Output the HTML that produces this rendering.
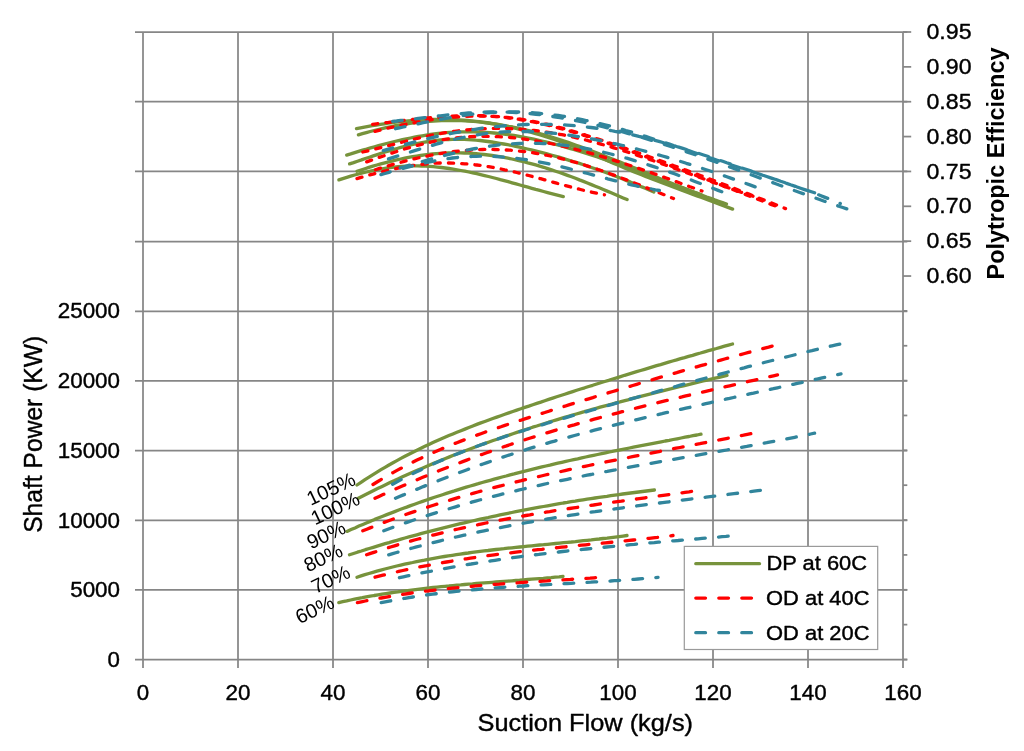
<!DOCTYPE html>
<html lang="en"><head><meta charset="utf-8"><title>Compressor performance map</title>
<style>html,body{margin:0;padding:0;background:#fff;overflow:hidden}svg{display:block;will-change:transform}text{font-family:"Liberation Sans", Arial, Helvetica, sans-serif;fill:#000}.c text,text.c{stroke:#000;stroke-width:0.4px;stroke-linejoin:round}</style></head><body>
<svg width="1024" height="751" viewBox="0 0 1024 751">
<g stroke="#868686" stroke-width="1.75" fill="none">
<line x1="135" y1="32.00" x2="907.3" y2="32.00"/>
<line x1="135" y1="101.70" x2="907.3" y2="101.70"/>
<line x1="135" y1="171.40" x2="907.3" y2="171.40"/>
<line x1="135" y1="241.65" x2="907.3" y2="241.65"/>
<line x1="135" y1="311.35" x2="907.3" y2="311.35"/>
<line x1="135" y1="380.80" x2="907.3" y2="380.80"/>
<line x1="135" y1="450.70" x2="907.3" y2="450.70"/>
<line x1="135" y1="520.25" x2="907.3" y2="520.25"/>
<line x1="135" y1="589.90" x2="907.3" y2="589.90"/>
<line x1="135" y1="659.55" x2="907.3" y2="659.55"/>
<line x1="143.00" y1="32.00" x2="143.00" y2="668"/>
<line x1="238.00" y1="32.00" x2="238.00" y2="668"/>
<line x1="333.00" y1="32.00" x2="333.00" y2="668"/>
<line x1="428.00" y1="32.00" x2="428.00" y2="668"/>
<line x1="523.00" y1="32.00" x2="523.00" y2="668"/>
<line x1="618.00" y1="32.00" x2="618.00" y2="668"/>
<line x1="713.00" y1="32.00" x2="713.00" y2="668"/>
<line x1="808.00" y1="32.00" x2="808.00" y2="668"/>
<line x1="903.00" y1="32.00" x2="903.00" y2="668"/>
<line x1="903" y1="32.00" x2="911.2" y2="32.00"/>
<line x1="903" y1="66.86" x2="911.2" y2="66.86"/>
<line x1="903" y1="101.72" x2="911.2" y2="101.72"/>
<line x1="903" y1="136.58" x2="911.2" y2="136.58"/>
<line x1="903" y1="171.44" x2="911.2" y2="171.44"/>
<line x1="903" y1="206.31" x2="911.2" y2="206.31"/>
<line x1="903" y1="241.17" x2="911.2" y2="241.17"/>
<line x1="903" y1="276.03" x2="911.2" y2="276.03"/>
<line x1="903" y1="310.89" x2="907.3" y2="310.89"/>
<line x1="903" y1="345.75" x2="907.3" y2="345.75"/>
<line x1="903" y1="380.61" x2="907.3" y2="380.61"/>
<line x1="903" y1="415.47" x2="907.3" y2="415.47"/>
<line x1="903" y1="450.33" x2="907.3" y2="450.33"/>
<line x1="903" y1="485.19" x2="907.3" y2="485.19"/>
<line x1="903" y1="520.06" x2="907.3" y2="520.06"/>
<line x1="903" y1="554.92" x2="907.3" y2="554.92"/>
<line x1="903" y1="589.78" x2="907.3" y2="589.78"/>
<line x1="903" y1="624.64" x2="907.3" y2="624.64"/>
<line x1="903" y1="659.50" x2="907.3" y2="659.50"/>
</g>
<g fill="none" stroke-width="3.3" stroke-linecap="round" stroke-linejoin="round">
<path d="M338.9 179.9 L342.8 178.6 L346.8 177.4 L350.7 176.2 L354.6 175.0 L358.6 174.0 L362.5 172.9 L366.5 172.0 L370.4 171.1 L374.3 170.3 L378.3 169.5 L382.2 168.8 L386.1 168.2 L390.1 167.6 L394.0 167.1 L398.0 166.7 L401.9 166.4 L405.8 166.2 L409.8 166.0 L413.7 165.9 L417.6 165.9 L421.6 166.0 L425.5 166.2 L429.4 166.4 L433.4 166.7 L437.3 167.1 L441.3 167.5 L445.2 168.0 L449.1 168.5 L453.1 169.1 L457.0 169.8 L460.9 170.5 L464.9 171.2 L468.8 172.0 L472.8 172.9 L476.7 173.7 L480.6 174.6 L484.6 175.6 L488.5 176.5 L492.4 177.5 L496.4 178.5 L500.3 179.6 L504.2 180.6 L508.2 181.7 L512.1 182.8 L516.1 183.9 L520.0 185.0 L523.9 186.1 L527.9 187.2 L531.8 188.3 L535.7 189.4 L539.7 190.4 L543.6 191.5 L547.6 192.6 L551.5 193.6 L555.4 194.6 L559.4 195.6 L563.3 196.6" stroke="#77933C"/>
<path d="M357.0 171.3 L361.0 170.0 L364.9 168.7 L368.9 167.4 L372.9 166.2 L376.9 165.0 L380.8 163.9 L384.8 162.8 L388.8 161.8 L392.7 160.8 L396.7 159.9 L400.7 159.0 L404.7 158.2 L408.6 157.4 L412.6 156.7 L416.6 156.1 L420.6 155.5 L424.5 154.9 L428.5 154.5 L432.5 154.0 L436.4 153.7 L440.4 153.4 L444.4 153.2 L448.4 153.0 L452.3 152.9 L456.3 152.9 L460.3 152.9 L464.2 153.0 L468.2 153.2 L472.2 153.4 L476.2 153.7 L480.1 154.1 L484.1 154.5 L488.1 155.0 L492.1 155.5 L496.0 156.1 L500.0 156.7 L504.0 157.4 L507.9 158.2 L511.9 159.0 L515.9 159.8 L519.9 160.8 L523.8 161.7 L527.8 162.8 L531.8 163.8 L535.7 164.9 L539.7 166.1 L543.7 167.3 L547.7 168.6 L551.6 169.9 L555.6 171.2 L559.6 172.5 L563.5 173.9 L567.5 175.4 L571.5 176.8 L575.5 178.3 L579.4 179.9 L583.4 181.4 L587.4 183.0 L591.4 184.6 L595.3 186.2 L599.3 187.8 L603.3 189.5 L607.2 191.1 L611.2 192.8 L615.2 194.5 L619.2 196.2 L623.1 197.9 L627.1 199.6" stroke="#77933C"/>
<path d="M349.6 163.9 L353.6 162.6 L357.5 161.2 L361.5 159.9 L365.4 158.5 L369.4 157.2 L373.3 155.9 L377.3 154.6 L381.2 153.3 L385.2 152.0 L389.1 150.8 L393.1 149.6 L397.0 148.5 L401.0 147.4 L404.9 146.4 L408.9 145.4 L412.8 144.5 L416.8 143.6 L420.7 142.8 L424.7 142.1 L428.6 141.5 L432.6 140.9 L436.5 140.4 L440.5 140.0 L444.4 139.7 L448.4 139.5 L452.3 139.4 L456.3 139.3 L460.2 139.3 L464.2 139.4 L468.1 139.6 L472.1 139.8 L476.0 140.2 L480.0 140.5 L483.9 141.0 L487.9 141.5 L491.8 142.0 L495.8 142.6 L499.7 143.3 L503.7 144.0 L507.6 144.7 L511.6 145.5 L515.5 146.3 L519.5 147.2 L523.4 148.1 L527.4 149.0 L531.3 149.9 L535.3 150.9 L539.2 151.9 L543.2 152.9 L547.1 153.9 L551.1 155.0 L555.0 156.1 L559.0 157.2 L562.9 158.4 L566.9 159.6 L570.8 160.8 L574.8 162.0 L578.7 163.2 L582.7 164.5 L586.6 165.8 L590.6 167.2 L594.5 168.5 L598.5 169.9 L602.4 171.3 L606.4 172.8 L610.3 174.2 L614.3 175.7 L618.2 177.2 L622.2 178.8 L626.1 180.4 L630.1 181.9 L634.0 183.6 L638.0 185.2 L641.9 186.9 L645.9 188.5 L649.8 190.3 L653.8 192.0" stroke="#77933C"/>
<path d="M346.7 155.1 L350.7 153.9 L354.7 152.6 L358.6 151.4 L362.6 150.2 L366.6 149.1 L370.6 147.9 L374.6 146.8 L378.5 145.7 L382.5 144.6 L386.5 143.5 L390.5 142.5 L394.5 141.5 L398.5 140.6 L402.4 139.7 L406.4 138.8 L410.4 138.0 L414.4 137.2 L418.4 136.5 L422.3 135.8 L426.3 135.1 L430.3 134.5 L434.3 134.0 L438.3 133.5 L442.2 133.1 L446.2 132.7 L450.2 132.4 L454.2 132.2 L458.2 132.0 L462.1 131.9 L466.1 131.8 L470.1 131.8 L474.1 131.9 L478.1 132.0 L482.1 132.2 L486.0 132.4 L490.0 132.7 L494.0 133.0 L498.0 133.4 L502.0 133.9 L505.9 134.4 L509.9 134.9 L513.9 135.5 L517.9 136.2 L521.9 136.9 L525.8 137.6 L529.8 138.4 L533.8 139.2 L537.8 140.0 L541.8 141.0 L545.7 141.9 L549.7 142.9 L553.7 143.9 L557.7 144.9 L561.7 146.0 L565.6 147.1 L569.6 148.3 L573.6 149.5 L577.6 150.7 L581.6 151.9 L585.6 153.1 L589.5 154.4 L593.5 155.7 L597.5 157.0 L601.5 158.4 L605.5 159.7 L609.4 161.1 L613.4 162.5 L617.4 163.9 L621.4 165.4 L625.4 166.8 L629.3 168.2 L633.3 169.7 L637.3 171.1 L641.3 172.6 L645.3 174.1 L649.2 175.6 L653.2 177.0 L657.2 178.5 L661.2 180.0 L665.2 181.5 L669.2 183.0 L673.1 184.4 L677.1 185.9 L681.1 187.4 L685.1 188.8 L689.1 190.2 L693.0 191.7 L697.0 193.1 L701.0 194.5" stroke="#77933C"/>
<path d="M358.4 134.9 L362.4 133.7 L366.3 132.6 L370.3 131.5 L374.2 130.5 L378.2 129.5 L382.1 128.6 L386.1 127.7 L390.1 126.8 L394.0 126.0 L398.0 125.3 L401.9 124.6 L405.9 124.0 L409.9 123.4 L413.8 122.9 L417.8 122.4 L421.7 122.0 L425.7 121.6 L429.6 121.3 L433.6 121.1 L437.6 120.9 L441.5 120.7 L445.5 120.6 L449.4 120.5 L453.4 120.5 L457.4 120.6 L461.3 120.7 L465.3 120.9 L469.2 121.1 L473.2 121.4 L477.1 121.7 L481.1 122.1 L485.1 122.5 L489.0 123.0 L493.0 123.6 L496.9 124.2 L500.9 124.8 L504.8 125.5 L508.8 126.3 L512.8 127.0 L516.7 127.9 L520.7 128.8 L524.6 129.7 L528.6 130.6 L532.6 131.7 L536.5 132.7 L540.5 133.8 L544.4 134.9 L548.4 136.1 L552.3 137.3 L556.3 138.5 L560.3 139.8 L564.2 141.1 L568.2 142.4 L572.1 143.8 L576.1 145.2 L580.1 146.6 L584.0 148.1 L588.0 149.5 L591.9 151.0 L595.9 152.5 L599.8 154.1 L603.8 155.6 L607.8 157.2 L611.7 158.7 L615.7 160.3 L619.6 161.9 L623.6 163.5 L627.5 165.2 L631.5 166.8 L635.5 168.4 L639.4 170.0 L643.4 171.7 L647.3 173.3 L651.3 175.0 L655.3 176.6 L659.2 178.2 L663.2 179.9 L667.1 181.5 L671.1 183.1 L675.0 184.7 L679.0 186.3 L683.0 187.9 L686.9 189.4 L690.9 191.0 L694.8 192.5 L698.8 194.0 L702.8 195.5 L706.7 197.0 L710.7 198.4 L714.6 199.9 L718.6 201.3 L722.5 202.6 L726.5 204.0" stroke="#77933C"/>
<path d="M356.5 128.7 L360.5 127.9 L364.4 127.1 L368.4 126.4 L372.3 125.7 L376.3 125.0 L380.3 124.4 L384.2 123.8 L388.2 123.2 L392.1 122.7 L396.1 122.2 L400.0 121.7 L404.0 121.3 L408.0 120.9 L411.9 120.6 L415.9 120.3 L419.8 120.0 L423.8 119.8 L427.8 119.6 L431.7 119.5 L435.7 119.4 L439.6 119.4 L443.6 119.4 L447.6 119.5 L451.5 119.6 L455.5 119.7 L459.4 119.9 L463.4 120.2 L467.4 120.5 L471.3 120.9 L475.3 121.3 L479.2 121.7 L483.2 122.3 L487.1 122.8 L491.1 123.5 L495.1 124.1 L499.0 124.9 L503.0 125.6 L506.9 126.4 L510.9 127.3 L514.9 128.2 L518.8 129.1 L522.8 130.1 L526.7 131.2 L530.7 132.2 L534.7 133.3 L538.6 134.5 L542.6 135.7 L546.5 136.9 L550.5 138.2 L554.4 139.5 L558.4 140.9 L562.4 142.3 L566.3 143.8 L570.3 145.3 L574.2 146.8 L578.2 148.4 L582.2 149.9 L586.1 151.6 L590.1 153.2 L594.0 154.9 L598.0 156.5 L602.0 158.2 L605.9 159.9 L609.9 161.7 L613.8 163.4 L617.8 165.0 L621.7 166.7 L625.7 168.4 L629.7 170.0 L633.6 171.6 L637.6 173.2 L641.5 174.8 L645.5 176.4 L649.5 177.9 L653.4 179.5 L657.4 181.0 L661.3 182.5 L665.3 184.0 L669.3 185.5 L673.2 187.0 L677.2 188.5 L681.1 190.0 L685.1 191.5 L689.1 192.9 L693.0 194.4 L697.0 195.9 L700.9 197.3 L704.9 198.8 L708.8 200.3 L712.8 201.7 L716.8 203.2 L720.7 204.7 L724.7 206.1 L728.6 207.6 L732.6 209.1" stroke="#77933C"/>
<path d="M357.0 178.6 L361.0 177.4 L365.0 176.3 L369.0 175.1 L373.0 174.1 L377.0 173.0 L381.0 172.0 L384.9 171.0 L388.9 170.0 L392.9 169.1 L396.9 168.3 L400.9 167.5 L404.9 166.7 L408.9 166.1 L412.9 165.4 L416.9 164.9 L420.9 164.4 L424.9 164.0 L428.9 163.6 L432.8 163.3 L436.8 163.1 L440.8 163.0 L444.8 163.0 L448.8 163.0 L452.8 163.1 L456.8 163.2 L460.8 163.5 L464.8 163.8 L468.8 164.1 L472.8 164.5 L476.8 165.0 L480.8 165.5 L484.7 166.1 L488.7 166.7 L492.7 167.4 L496.7 168.1 L500.7 168.9 L504.7 169.8 L508.7 170.6 L512.7 171.5 L516.7 172.5 L520.7 173.5 L524.7 174.5 L528.7 175.5 L532.6 176.6 L536.6 177.7 L540.6 178.7 L544.6 179.8 L548.6 180.9 L552.6 182.1 L556.6 183.2 L560.6 184.3 L564.6 185.3 L568.6 186.4 L572.6 187.5 L576.6 188.5 L580.5 189.5 L584.5 190.5 L588.5 191.4 L592.5 192.3 L596.5 193.2 L600.5 194.0 L604.5 194.8" stroke="#FF0000" stroke-dasharray="5.2 8.1"/>
<path d="M375.5 169.7 L379.5 168.4 L383.4 167.2 L387.4 166.1 L391.4 164.9 L395.4 163.8 L399.3 162.7 L403.3 161.6 L407.3 160.6 L411.3 159.6 L415.2 158.6 L419.2 157.7 L423.2 156.8 L427.2 156.0 L431.1 155.2 L435.1 154.4 L439.1 153.7 L443.0 153.1 L447.0 152.5 L451.0 151.9 L455.0 151.4 L458.9 151.0 L462.9 150.6 L466.9 150.3 L470.9 150.0 L474.8 149.8 L478.8 149.6 L482.8 149.5 L486.8 149.4 L490.7 149.4 L494.7 149.5 L498.7 149.6 L502.6 149.8 L506.6 150.0 L510.6 150.2 L514.6 150.6 L518.5 151.0 L522.5 151.4 L526.5 151.9 L530.5 152.4 L534.4 153.0 L538.4 153.7 L542.4 154.4 L546.4 155.2 L550.3 156.0 L554.3 156.9 L558.3 157.8 L562.2 158.8 L566.2 159.8 L570.2 160.9 L574.2 162.0 L578.1 163.1 L582.1 164.3 L586.1 165.6 L590.1 166.8 L594.0 168.1 L598.0 169.5 L602.0 170.8 L606.0 172.2 L609.9 173.7 L613.9 175.1 L617.9 176.6 L621.8 178.1 L625.8 179.6 L629.8 181.1 L633.8 182.7 L637.7 184.2 L641.7 185.8 L645.7 187.4 L649.7 189.0 L653.6 190.6 L657.6 192.1 L661.6 193.7 L665.6 195.3 L669.5 196.9 L673.5 198.5" stroke="#FF0000" stroke-dasharray="5.2 8.1"/>
<path d="M366.7 161.9 L370.7 160.4 L374.7 159.0 L378.7 157.6 L382.7 156.2 L386.7 154.8 L390.6 153.5 L394.6 152.2 L398.6 150.9 L402.6 149.6 L406.6 148.4 L410.6 147.3 L414.6 146.1 L418.6 145.1 L422.6 144.1 L426.6 143.1 L430.6 142.2 L434.6 141.3 L438.5 140.6 L442.5 139.8 L446.5 139.2 L450.5 138.6 L454.5 138.1 L458.5 137.6 L462.5 137.2 L466.5 136.9 L470.5 136.7 L474.5 136.5 L478.5 136.4 L482.5 136.3 L486.4 136.3 L490.4 136.4 L494.4 136.5 L498.4 136.7 L502.4 136.9 L506.4 137.2 L510.4 137.5 L514.4 137.9 L518.4 138.4 L522.4 138.9 L526.4 139.4 L530.4 140.0 L534.4 140.6 L538.3 141.3 L542.3 142.0 L546.3 142.7 L550.3 143.5 L554.3 144.3 L558.3 145.2 L562.3 146.1 L566.3 147.0 L570.3 148.0 L574.3 149.0 L578.3 150.0 L582.2 151.0 L586.2 152.1 L590.2 153.2 L594.2 154.3 L598.2 155.5 L602.2 156.7 L606.2 157.9 L610.2 159.1 L614.2 160.4 L618.2 161.6 L622.2 162.9 L626.2 164.2 L630.1 165.5 L634.1 166.9 L638.1 168.2 L642.1 169.6 L646.1 171.0 L650.1 172.3 L654.1 173.7 L658.1 175.2 L662.1 176.6 L666.1 178.0 L670.1 179.4 L674.1 180.9 L678.0 182.3 L682.0 183.8 L686.0 185.2 L690.0 186.7 L694.0 188.1 L698.0 189.6 L702.0 191.0" stroke="#FF0000" stroke-dasharray="5.2 8.1"/>
<path d="M362.8 152.0 L366.8 151.1 L370.8 150.2 L374.7 149.2 L378.7 148.2 L382.7 147.2 L386.7 146.2 L390.7 145.1 L394.7 144.1 L398.6 143.0 L402.6 142.0 L406.6 141.0 L410.6 140.0 L414.6 139.0 L418.5 138.1 L422.5 137.1 L426.5 136.2 L430.5 135.4 L434.5 134.6 L438.5 133.9 L442.4 133.2 L446.4 132.5 L450.4 131.9 L454.4 131.3 L458.4 130.8 L462.3 130.4 L466.3 130.0 L470.3 129.6 L474.3 129.3 L478.3 129.0 L482.2 128.8 L486.2 128.6 L490.2 128.5 L494.2 128.4 L498.2 128.4 L502.2 128.4 L506.1 128.5 L510.1 128.7 L514.1 128.8 L518.1 129.0 L522.1 129.3 L526.0 129.6 L530.0 130.0 L534.0 130.4 L538.0 130.9 L542.0 131.4 L546.0 132.0 L549.9 132.6 L553.9 133.3 L557.9 134.0 L561.9 134.7 L565.9 135.5 L569.8 136.4 L573.8 137.2 L577.8 138.1 L581.8 139.1 L585.8 140.0 L589.8 141.1 L593.7 142.1 L597.7 143.2 L601.7 144.3 L605.7 145.4 L609.7 146.6 L613.6 147.8 L617.6 149.0 L621.6 150.2 L625.6 151.5 L629.6 152.7 L633.6 154.0 L637.5 155.4 L641.5 156.7 L645.5 158.1 L649.5 159.4 L653.5 160.8 L657.4 162.2 L661.4 163.6 L665.4 165.0 L669.4 166.5 L673.4 167.9 L677.3 169.3 L681.3 170.8 L685.3 172.2 L689.3 173.7 L693.3 175.1 L697.3 176.6 L701.2 178.0 L705.2 179.5 L709.2 180.9 L713.2 182.4 L717.2 183.8 L721.1 185.3 L725.1 186.7 L729.1 188.1 L733.1 189.5 L737.1 190.9 L741.1 192.2 L745.0 193.6 L749.0 194.9 L753.0 196.3" stroke="#FF0000" stroke-dasharray="5.2 8.1"/>
<path d="M375.0 131.3 L379.0 130.3 L383.0 129.3 L387.0 128.4 L390.9 127.5 L394.9 126.6 L398.9 125.7 L402.9 124.9 L406.9 124.1 L410.9 123.3 L414.9 122.6 L418.8 121.9 L422.8 121.2 L426.8 120.5 L430.8 119.9 L434.8 119.3 L438.8 118.8 L442.8 118.3 L446.7 117.9 L450.7 117.5 L454.7 117.1 L458.7 116.8 L462.7 116.5 L466.7 116.3 L470.7 116.2 L474.6 116.1 L478.6 116.0 L482.6 116.0 L486.6 116.1 L490.6 116.2 L494.6 116.4 L498.5 116.7 L502.5 117.0 L506.5 117.4 L510.5 117.8 L514.5 118.3 L518.5 118.9 L522.5 119.5 L526.4 120.1 L530.4 120.9 L534.4 121.6 L538.4 122.4 L542.4 123.3 L546.4 124.2 L550.4 125.2 L554.3 126.2 L558.3 127.2 L562.3 128.2 L566.3 129.3 L570.3 130.5 L574.3 131.6 L578.3 132.8 L582.2 134.0 L586.2 135.3 L590.2 136.5 L594.2 137.8 L598.2 139.1 L602.2 140.4 L606.2 141.8 L610.1 143.1 L614.1 144.5 L618.1 145.8 L622.1 147.2 L626.1 148.6 L630.1 150.0 L634.1 151.4 L638.0 152.8 L642.0 154.2 L646.0 155.6 L650.0 157.0 L654.0 158.4 L658.0 159.9 L662.0 161.3 L665.9 162.8 L669.9 164.2 L673.9 165.7 L677.9 167.1 L681.9 168.6 L685.9 170.1 L689.8 171.6 L693.8 173.1 L697.8 174.5 L701.8 176.0 L705.8 177.5 L709.8 179.1 L713.8 180.6 L717.7 182.1 L721.7 183.6 L725.7 185.1 L729.7 186.7 L733.7 188.2 L737.7 189.8 L741.7 191.3 L745.6 192.9 L749.6 194.4 L753.6 196.0 L757.6 197.5 L761.6 199.1 L765.6 200.7 L769.6 202.2 L773.5 203.8 L777.5 205.4 L781.5 207.0 L785.5 208.6" stroke="#FF0000" stroke-dasharray="5.2 8.1"/>
<path d="M372.6 124.3 L376.6 123.8 L380.6 123.3 L384.6 122.8 L388.5 122.4 L392.5 121.9 L396.5 121.4 L400.5 120.9 L404.5 120.4 L408.5 119.9 L412.4 119.5 L416.4 119.1 L420.4 118.6 L424.4 118.2 L428.4 117.8 L432.4 117.5 L436.3 117.2 L440.3 116.9 L444.3 116.6 L448.3 116.3 L452.3 116.1 L456.3 115.9 L460.3 115.8 L464.2 115.7 L468.2 115.6 L472.2 115.6 L476.2 115.7 L480.2 115.7 L484.2 115.9 L488.1 116.0 L492.1 116.3 L496.1 116.6 L500.1 116.9 L504.1 117.3 L508.1 117.8 L512.1 118.3 L516.0 118.9 L520.0 119.5 L524.0 120.2 L528.0 120.9 L532.0 121.7 L536.0 122.5 L539.9 123.4 L543.9 124.3 L547.9 125.2 L551.9 126.2 L555.9 127.2 L559.9 128.3 L563.8 129.4 L567.8 130.5 L571.8 131.7 L575.8 132.9 L579.8 134.1 L583.8 135.3 L587.8 136.6 L591.7 137.9 L595.7 139.2 L599.7 140.5 L603.7 141.8 L607.7 143.2 L611.7 144.5 L615.6 145.9 L619.6 147.3 L623.6 148.7 L627.6 150.1 L631.6 151.5 L635.6 153.0 L639.5 154.4 L643.5 155.8 L647.5 157.3 L651.5 158.7 L655.5 160.2 L659.5 161.7 L663.5 163.2 L667.4 164.6 L671.4 166.1 L675.4 167.6 L679.4 169.1 L683.4 170.6 L687.4 172.1 L691.3 173.6 L695.3 175.2 L699.3 176.7 L703.3 178.2 L707.3 179.7 L711.3 181.3 L715.3 182.8 L719.2 184.3 L723.2 185.9 L727.2 187.4 L731.2 188.9 L735.2 190.5 L739.2 192.0 L743.1 193.6 L747.1 195.1 L751.1 196.7 L755.1 198.2 L759.1 199.8 L763.1 201.3 L767.0 202.9 L771.0 204.4 L775.0 205.9 L779.0 207.5" stroke="#FF0000" stroke-dasharray="5.2 8.1"/>
<path d="M380.9 174.6 L384.9 173.5 L388.9 172.3 L392.8 171.2 L396.8 170.1 L400.8 169.0 L404.8 167.9 L408.8 166.9 L412.7 165.8 L416.7 164.9 L420.7 163.9 L424.7 163.0 L428.6 162.1 L432.6 161.3 L436.6 160.5 L440.6 159.8 L444.6 159.2 L448.5 158.6 L452.5 158.0 L456.5 157.6 L460.5 157.2 L464.4 156.8 L468.4 156.6 L472.4 156.4 L476.4 156.3 L480.4 156.2 L484.3 156.2 L488.3 156.2 L492.3 156.4 L496.3 156.5 L500.3 156.8 L504.2 157.1 L508.2 157.4 L512.2 157.8 L516.2 158.3 L520.1 158.8 L524.1 159.4 L528.1 160.0 L532.1 160.6 L536.1 161.4 L540.0 162.1 L544.0 162.9 L548.0 163.7 L552.0 164.6 L556.0 165.5 L559.9 166.4 L563.9 167.4 L567.9 168.4 L571.9 169.4 L575.9 170.4 L579.8 171.4 L583.8 172.5 L587.8 173.5 L591.8 174.6 L595.7 175.6 L599.7 176.7 L603.7 177.7 L607.7 178.8 L611.7 179.8 L615.6 180.8 L619.6 181.9 L623.6 182.8 L627.6 183.8 L631.5 184.8 L635.5 185.7 L639.5 186.6 L643.5 187.4 L647.5 188.3 L651.4 189.0 L655.4 189.8 L659.4 190.5" stroke="#31859C" stroke-dasharray="9.7 13.3"/>
<path d="M400.2 167.9 L404.2 166.8 L408.1 165.6 L412.1 164.5 L416.1 163.3 L420.1 162.2 L424.0 161.0 L428.0 159.9 L432.0 158.8 L436.0 157.7 L439.9 156.7 L443.9 155.6 L447.9 154.6 L451.9 153.6 L455.8 152.7 L459.8 151.8 L463.8 150.9 L467.7 150.0 L471.7 149.2 L475.7 148.5 L479.7 147.7 L483.6 147.1 L487.6 146.5 L491.6 145.9 L495.6 145.4 L499.5 144.9 L503.5 144.5 L507.5 144.2 L511.5 143.9 L515.4 143.6 L519.4 143.5 L523.4 143.4 L527.4 143.3 L531.3 143.3 L535.3 143.3 L539.3 143.4 L543.2 143.6 L547.2 143.8 L551.2 144.0 L555.2 144.4 L559.1 144.7 L563.1 145.1 L567.1 145.6 L571.1 146.1 L575.0 146.7 L579.0 147.4 L583.0 148.0 L587.0 148.7 L590.9 149.5 L594.9 150.3 L598.9 151.2 L602.8 152.1 L606.8 153.0 L610.8 154.0 L614.8 155.0 L618.7 156.0 L622.7 157.1 L626.7 158.2 L630.7 159.4 L634.6 160.6 L638.6 161.8 L642.6 163.0 L646.6 164.3 L650.5 165.6 L654.5 166.9 L658.5 168.2 L662.5 169.6 L666.4 171.0 L670.4 172.4 L674.4 173.8 L678.3 175.3 L682.3 176.7 L686.3 178.2 L690.3 179.7 L694.2 181.2 L698.2 182.7 L702.2 184.2 L706.2 185.7 L710.1 187.3 L714.1 188.8 L718.1 190.4 L722.1 191.9 L726.0 193.5 L730.0 195.0" stroke="#31859C" stroke-dasharray="9.7 13.3"/>
<path d="M388.5 158.9 L392.5 157.6 L396.4 156.4 L400.4 155.1 L404.4 153.9 L408.4 152.6 L412.3 151.4 L416.3 150.1 L420.3 148.9 L424.2 147.7 L428.2 146.5 L432.2 145.4 L436.2 144.2 L440.1 143.1 L444.1 142.0 L448.1 141.0 L452.0 140.0 L456.0 139.0 L460.0 138.1 L464.0 137.3 L467.9 136.5 L471.9 135.7 L475.9 135.0 L479.8 134.4 L483.8 133.8 L487.8 133.3 L491.8 132.8 L495.7 132.5 L499.7 132.1 L503.7 131.9 L507.6 131.7 L511.6 131.5 L515.6 131.5 L519.6 131.4 L523.5 131.5 L527.5 131.5 L531.5 131.7 L535.4 131.8 L539.4 132.1 L543.4 132.3 L547.4 132.7 L551.3 133.0 L555.3 133.4 L559.3 133.9 L563.2 134.4 L567.2 134.9 L571.2 135.5 L575.1 136.1 L579.1 136.7 L583.1 137.3 L587.1 138.0 L591.0 138.8 L595.0 139.5 L599.0 140.3 L602.9 141.1 L606.9 141.9 L610.9 142.8 L614.9 143.7 L618.8 144.6 L622.8 145.5 L626.8 146.5 L630.7 147.5 L634.7 148.5 L638.7 149.5 L642.7 150.5 L646.6 151.6 L650.6 152.7 L654.6 153.8 L658.5 154.9 L662.5 156.0 L666.5 157.2 L670.5 158.4 L674.4 159.6 L678.4 160.8 L682.4 162.0 L686.3 163.3 L690.3 164.5 L694.3 165.8 L698.3 167.1 L702.2 168.4 L706.2 169.7 L710.2 171.0 L714.1 172.4 L718.1 173.7 L722.1 175.1 L726.1 176.5 L730.0 177.9 L734.0 179.3 L738.0 180.7 L741.9 182.1 L745.9 183.5 L749.9 184.9 L753.9 186.4 L757.8 187.8 L761.8 189.3" stroke="#31859C" stroke-dasharray="9.7 13.3"/>
<path d="M383.3 150.6 L387.3 149.4 L391.3 148.3 L395.3 147.2 L399.3 146.1 L403.3 145.0 L407.3 143.9 L411.3 142.8 L415.2 141.8 L419.2 140.8 L423.2 139.8 L427.2 138.8 L431.2 137.9 L435.2 136.9 L439.2 136.0 L443.2 135.2 L447.2 134.3 L451.2 133.5 L455.2 132.7 L459.2 132.0 L463.2 131.2 L467.2 130.6 L471.2 129.9 L475.2 129.3 L479.1 128.7 L483.1 128.1 L487.1 127.6 L491.1 127.1 L495.1 126.7 L499.1 126.3 L503.1 125.9 L507.1 125.6 L511.1 125.3 L515.1 125.0 L519.1 124.8 L523.1 124.6 L527.1 124.5 L531.1 124.4 L535.1 124.3 L539.0 124.3 L543.0 124.3 L547.0 124.3 L551.0 124.4 L555.0 124.5 L559.0 124.7 L563.0 124.9 L567.0 125.1 L571.0 125.4 L575.0 125.8 L579.0 126.1 L583.0 126.5 L587.0 127.0 L591.0 127.5 L595.0 128.0 L599.0 128.6 L602.9 129.2 L606.9 129.8 L610.9 130.5 L614.9 131.3 L618.9 132.0 L622.9 132.8 L626.9 133.7 L630.9 134.5 L634.9 135.4 L638.9 136.4 L642.9 137.3 L646.9 138.3 L650.9 139.3 L654.9 140.4 L658.9 141.4 L662.8 142.5 L666.8 143.7 L670.8 144.8 L674.8 146.0 L678.8 147.2 L682.8 148.4 L686.8 149.6 L690.8 150.8 L694.8 152.1 L698.8 153.4 L702.8 154.7 L706.8 156.0 L710.8 157.3 L714.8 158.6 L718.8 159.9 L722.7 161.3 L726.7 162.7 L730.7 164.0 L734.7 165.4 L738.7 166.8 L742.7 168.2 L746.7 169.5 L750.7 170.9 L754.7 172.3 L758.7 173.7 L762.7 175.1 L766.7 176.5 L770.7 177.9 L774.7 179.3 L778.7 180.7 L782.7 182.1 L786.6 183.4 L790.6 184.8 L794.6 186.1 L798.6 187.5 L802.6 188.8 L806.6 190.2 L810.6 191.5 L814.6 192.8" stroke="#31859C" stroke-dasharray="9.7 13.3"/>
<path d="M395.5 128.7 L399.5 127.8 L403.4 127.0 L407.4 126.1 L411.4 125.3 L415.4 124.4 L419.3 123.6 L423.3 122.7 L427.3 121.9 L431.2 121.1 L435.2 120.3 L439.2 119.6 L443.2 118.8 L447.1 118.1 L451.1 117.4 L455.1 116.7 L459.0 116.1 L463.0 115.5 L467.0 114.9 L471.0 114.4 L474.9 113.9 L478.9 113.5 L482.9 113.1 L486.8 112.8 L490.8 112.5 L494.8 112.3 L498.8 112.1 L502.7 112.0 L506.7 111.9 L510.7 111.9 L514.6 111.9 L518.6 112.0 L522.6 112.2 L526.6 112.4 L530.5 112.6 L534.5 112.9 L538.5 113.2 L542.4 113.6 L546.4 114.0 L550.4 114.5 L554.4 115.0 L558.3 115.5 L562.3 116.1 L566.3 116.8 L570.2 117.4 L574.2 118.1 L578.2 118.9 L582.2 119.7 L586.1 120.5 L590.1 121.3 L594.1 122.2 L598.0 123.2 L602.0 124.1 L606.0 125.1 L610.0 126.1 L613.9 127.2 L617.9 128.2 L621.9 129.3 L625.8 130.5 L629.8 131.6 L633.8 132.8 L637.8 134.0 L641.7 135.2 L645.7 136.4 L649.7 137.7 L653.6 139.0 L657.6 140.2 L661.6 141.5 L665.6 142.8 L669.5 144.1 L673.5 145.5 L677.5 146.8 L681.4 148.1 L685.4 149.5 L689.4 150.8 L693.4 152.2 L697.3 153.5 L701.3 154.9 L705.3 156.2 L709.2 157.6 L713.2 158.9 L717.2 160.2 L721.2 161.6 L725.1 162.9 L729.1 164.2 L733.1 165.5 L737.0 166.8 L741.0 168.1 L745.0 169.4 L749.0 170.7 L752.9 172.0 L756.9 173.3 L760.9 174.6 L764.8 175.9 L768.8 177.2 L772.8 178.6 L776.8 179.9 L780.7 181.3 L784.7 182.6 L788.7 184.0 L792.6 185.4 L796.6 186.8 L800.6 188.2 L804.6 189.6 L808.5 191.0 L812.5 192.5 L816.5 194.0 L820.4 195.5 L824.4 197.1 L828.4 198.6 L832.4 200.2 L836.3 201.8 L840.3 203.5" stroke="#31859C" stroke-dasharray="9.7 13.3"/>
<path d="M392.6 121.4 L396.6 121.0 L400.6 120.5 L404.6 120.1 L408.5 119.6 L412.5 119.1 L416.5 118.7 L420.5 118.2 L424.5 117.7 L428.5 117.2 L432.4 116.7 L436.4 116.2 L440.4 115.8 L444.4 115.3 L448.4 114.9 L452.4 114.4 L456.3 114.0 L460.3 113.7 L464.3 113.3 L468.3 113.0 L472.3 112.7 L476.3 112.5 L480.3 112.3 L484.2 112.1 L488.2 112.0 L492.2 111.9 L496.2 111.9 L500.2 111.9 L504.2 112.0 L508.1 112.1 L512.1 112.3 L516.1 112.5 L520.1 112.8 L524.1 113.1 L528.1 113.4 L532.0 113.8 L536.0 114.3 L540.0 114.7 L544.0 115.2 L548.0 115.8 L552.0 116.4 L556.0 117.0 L559.9 117.6 L563.9 118.3 L567.9 119.0 L571.9 119.8 L575.9 120.6 L579.9 121.4 L583.8 122.2 L587.8 123.1 L591.8 124.0 L595.8 125.0 L599.8 125.9 L603.8 126.9 L607.7 127.9 L611.7 128.9 L615.7 130.0 L619.7 131.1 L623.7 132.2 L627.7 133.3 L631.7 134.4 L635.6 135.6 L639.6 136.7 L643.6 137.9 L647.6 139.1 L651.6 140.4 L655.6 141.6 L659.5 142.9 L663.5 144.1 L667.5 145.4 L671.5 146.7 L675.5 148.0 L679.5 149.4 L683.4 150.7 L687.4 152.1 L691.4 153.4 L695.4 154.8 L699.4 156.2 L703.4 157.6 L707.4 159.0 L711.3 160.4 L715.3 161.8 L719.3 163.2 L723.3 164.6 L727.3 166.1 L731.3 167.5 L735.2 169.0 L739.2 170.4 L743.2 171.9 L747.2 173.3 L751.2 174.8 L755.2 176.2 L759.1 177.7 L763.1 179.2 L767.1 180.6 L771.1 182.1 L775.1 183.5 L779.1 185.0 L783.1 186.4 L787.0 187.9 L791.0 189.3 L795.0 190.8 L799.0 192.2 L803.0 193.6 L807.0 195.1 L810.9 196.5 L814.9 197.9 L818.9 199.3 L822.9 200.7 L826.9 202.1 L830.9 203.5 L834.8 204.8 L838.8 206.2 L842.8 207.5 L846.8 208.9" stroke="#31859C" stroke-dasharray="9.7 13.3"/>
<path d="M338.8 602.6 L342.7 601.7 L346.7 600.9 L350.6 600.0 L354.5 599.2 L358.5 598.4 L362.4 597.7 L366.3 596.9 L370.3 596.2 L374.2 595.5 L378.1 594.9 L382.1 594.2 L386.0 593.6 L389.9 593.0 L393.9 592.4 L397.8 591.9 L401.7 591.3 L405.7 590.8 L409.6 590.3 L413.5 589.8 L417.5 589.3 L421.4 588.8 L425.3 588.4 L429.3 588.0 L433.2 587.5 L437.1 587.1 L441.1 586.7 L445.0 586.3 L448.9 586.0 L452.9 585.6 L456.8 585.2 L460.7 584.9 L464.7 584.5 L468.6 584.2 L472.5 583.9 L476.5 583.5 L480.4 583.2 L484.3 582.9 L488.3 582.6 L492.2 582.3 L496.1 582.0 L500.1 581.7 L504.0 581.4 L507.9 581.1 L511.9 580.8 L515.8 580.5 L519.7 580.2 L523.7 579.8 L527.6 579.5 L531.5 579.2 L535.5 578.9 L539.4 578.6 L543.3 578.3 L547.3 577.9 L551.2 577.6 L555.1 577.2 L559.1 576.9 L563.0 576.5" stroke="#77933C"/>
<path d="M357.0 577.2 L361.0 575.9 L364.9 574.7 L368.9 573.5 L372.9 572.3 L376.9 571.2 L380.8 570.1 L384.8 569.0 L388.8 568.0 L392.7 567.0 L396.7 566.0 L400.7 565.1 L404.6 564.2 L408.6 563.3 L412.6 562.5 L416.6 561.6 L420.5 560.8 L424.5 560.1 L428.5 559.3 L432.4 558.6 L436.4 557.9 L440.4 557.2 L444.4 556.5 L448.3 555.9 L452.3 555.3 L456.3 554.7 L460.2 554.1 L464.2 553.5 L468.2 553.0 L472.1 552.4 L476.1 551.9 L480.1 551.4 L484.1 550.9 L488.0 550.5 L492.0 550.0 L496.0 549.5 L499.9 549.1 L503.9 548.7 L507.9 548.2 L511.9 547.8 L515.8 547.4 L519.8 547.0 L523.8 546.6 L527.7 546.2 L531.7 545.8 L535.7 545.4 L539.6 545.0 L543.6 544.7 L547.6 544.3 L551.6 543.9 L555.5 543.5 L559.5 543.1 L563.5 542.7 L567.4 542.3 L571.4 542.0 L575.4 541.6 L579.4 541.1 L583.3 540.7 L587.3 540.3 L591.3 539.9 L595.2 539.4 L599.2 539.0 L603.2 538.5 L607.1 538.1 L611.1 537.6 L615.1 537.1 L619.1 536.6 L623.0 536.1 L627.0 535.5" stroke="#77933C"/>
<path d="M349.5 554.8 L353.5 553.5 L357.4 552.2 L361.4 551.0 L365.3 549.7 L369.3 548.5 L373.3 547.3 L377.2 546.1 L381.2 544.9 L385.1 543.7 L389.1 542.6 L393.1 541.4 L397.0 540.3 L401.0 539.1 L404.9 538.0 L408.9 536.9 L412.9 535.8 L416.8 534.8 L420.8 533.7 L424.7 532.6 L428.7 531.6 L432.7 530.6 L436.6 529.6 L440.6 528.6 L444.5 527.6 L448.5 526.6 L452.5 525.6 L456.4 524.7 L460.4 523.7 L464.3 522.8 L468.3 521.9 L472.3 521.0 L476.2 520.1 L480.2 519.2 L484.1 518.3 L488.1 517.5 L492.1 516.6 L496.0 515.8 L500.0 514.9 L503.9 514.1 L507.9 513.3 L511.8 512.5 L515.8 511.7 L519.8 510.9 L523.7 510.2 L527.7 509.4 L531.6 508.7 L535.6 507.9 L539.6 507.2 L543.5 506.5 L547.5 505.8 L551.4 505.1 L555.4 504.4 L559.4 503.7 L563.3 503.0 L567.3 502.4 L571.2 501.7 L575.2 501.1 L579.2 500.4 L583.1 499.8 L587.1 499.2 L591.0 498.6 L595.0 498.0 L599.0 497.4 L602.9 496.8 L606.9 496.3 L610.8 495.7 L614.8 495.1 L618.8 494.6 L622.7 494.0 L626.7 493.5 L630.6 493.0 L634.6 492.5 L638.6 492.0 L642.5 491.5 L646.5 491.0 L650.4 490.5 L654.4 490.0" stroke="#77933C"/>
<path d="M347.0 531.4 L351.0 529.6 L355.0 527.9 L358.9 526.1 L362.9 524.4 L366.9 522.7 L370.9 521.1 L374.8 519.4 L378.8 517.8 L382.8 516.2 L386.8 514.6 L390.8 513.1 L394.7 511.6 L398.7 510.0 L402.7 508.5 L406.7 507.1 L410.6 505.6 L414.6 504.2 L418.6 502.8 L422.6 501.4 L426.6 500.0 L430.5 498.6 L434.5 497.3 L438.5 496.0 L442.5 494.7 L446.4 493.4 L450.4 492.1 L454.4 490.9 L458.4 489.6 L462.3 488.4 L466.3 487.2 L470.3 486.0 L474.3 484.8 L478.3 483.7 L482.2 482.5 L486.2 481.4 L490.2 480.3 L494.2 479.2 L498.1 478.1 L502.1 477.0 L506.1 476.0 L510.1 474.9 L514.1 473.9 L518.0 472.8 L522.0 471.8 L526.0 470.8 L530.0 469.8 L533.9 468.9 L537.9 467.9 L541.9 466.9 L545.9 466.0 L549.9 465.1 L553.8 464.1 L557.8 463.2 L561.8 462.3 L565.8 461.4 L569.7 460.5 L573.7 459.6 L577.7 458.8 L581.7 457.9 L585.7 457.0 L589.6 456.2 L593.6 455.3 L597.6 454.5 L601.6 453.7 L605.5 452.9 L609.5 452.0 L613.5 451.2 L617.5 450.4 L621.4 449.6 L625.4 448.8 L629.4 448.0 L633.4 447.2 L637.4 446.4 L641.3 445.7 L645.3 444.9 L649.3 444.1 L653.3 443.3 L657.2 442.6 L661.2 441.8 L665.2 441.0 L669.2 440.3 L673.2 439.5 L677.1 438.8 L681.1 438.0 L685.1 437.2 L689.1 436.5 L693.0 435.7 L697.0 435.0 L701.0 434.2" stroke="#77933C"/>
<path d="M358.3 498.2 L362.3 496.2 L366.2 494.2 L370.2 492.2 L374.2 490.2 L378.1 488.3 L382.1 486.4 L386.1 484.5 L390.0 482.6 L394.0 480.8 L397.9 478.9 L401.9 477.1 L405.9 475.3 L409.8 473.6 L413.8 471.8 L417.8 470.1 L421.7 468.4 L425.7 466.7 L429.7 465.0 L433.6 463.4 L437.6 461.7 L441.6 460.1 L445.5 458.5 L449.5 456.9 L453.4 455.3 L457.4 453.8 L461.4 452.2 L465.3 450.7 L469.3 449.2 L473.3 447.7 L477.2 446.3 L481.2 444.8 L485.2 443.4 L489.1 442.0 L493.1 440.5 L497.1 439.2 L501.0 437.8 L505.0 436.4 L509.0 435.1 L512.9 433.7 L516.9 432.4 L520.8 431.1 L524.8 429.8 L528.8 428.5 L532.7 427.2 L536.7 426.0 L540.7 424.7 L544.6 423.5 L548.6 422.2 L552.6 421.0 L556.5 419.8 L560.5 418.6 L564.5 417.4 L568.4 416.3 L572.4 415.1 L576.3 414.0 L580.3 412.8 L584.3 411.7 L588.2 410.5 L592.2 409.4 L596.2 408.3 L600.1 407.2 L604.1 406.1 L608.1 405.1 L612.0 404.0 L616.0 402.9 L620.0 401.9 L623.9 400.8 L627.9 399.8 L631.9 398.7 L635.8 397.7 L639.8 396.7 L643.7 395.6 L647.7 394.6 L651.7 393.6 L655.6 392.6 L659.6 391.6 L663.6 390.6 L667.5 389.6 L671.5 388.7 L675.5 387.7 L679.4 386.7 L683.4 385.8 L687.4 384.8 L691.3 383.8 L695.3 382.9 L699.2 381.9 L703.2 381.0 L707.2 380.1 L711.1 379.1 L715.1 378.2 L719.1 377.3 L723.0 376.4 L727.0 375.4" stroke="#77933C"/>
<path d="M357.0 485.0 L361.0 482.3 L365.0 479.6 L369.0 477.1 L373.0 474.6 L377.0 472.1 L381.0 469.7 L385.0 467.3 L389.0 465.0 L393.0 462.8 L396.9 460.6 L400.9 458.4 L404.9 456.3 L408.9 454.2 L412.9 452.2 L416.9 450.2 L420.9 448.2 L424.9 446.3 L428.9 444.5 L432.9 442.6 L436.9 440.8 L440.9 439.0 L444.9 437.3 L448.9 435.6 L452.9 433.9 L456.9 432.3 L460.9 430.7 L464.9 429.1 L468.9 427.5 L472.8 426.0 L476.8 424.4 L480.8 422.9 L484.8 421.5 L488.8 420.0 L492.8 418.5 L496.8 417.1 L500.8 415.7 L504.8 414.3 L508.8 412.9 L512.8 411.5 L516.8 410.1 L520.8 408.8 L524.8 407.4 L528.8 406.1 L532.8 404.7 L536.8 403.4 L540.8 402.1 L544.8 400.7 L548.7 399.4 L552.7 398.1 L556.7 396.8 L560.7 395.5 L564.7 394.2 L568.7 392.9 L572.7 391.6 L576.7 390.3 L580.7 389.0 L584.7 387.8 L588.7 386.5 L592.7 385.3 L596.7 384.0 L600.7 382.7 L604.7 381.5 L608.7 380.3 L612.7 379.0 L616.7 377.8 L620.6 376.6 L624.6 375.3 L628.6 374.1 L632.6 372.9 L636.6 371.7 L640.6 370.5 L644.6 369.3 L648.6 368.1 L652.6 366.9 L656.6 365.7 L660.6 364.6 L664.6 363.4 L668.6 362.2 L672.6 361.0 L676.6 359.9 L680.6 358.7 L684.6 357.6 L688.6 356.4 L692.6 355.3 L696.5 354.1 L700.5 353.0 L704.5 351.8 L708.5 350.7 L712.5 349.6 L716.5 348.5 L720.5 347.3 L724.5 346.2 L728.5 345.1 L732.5 344.0" stroke="#77933C"/>
<path d="M357.4 602.6 L361.3 601.8 L365.3 601.0 L369.2 600.2 L373.2 599.4 L377.1 598.7 L381.1 598.0 L385.0 597.3 L389.0 596.6 L392.9 595.9 L396.8 595.3 L400.8 594.7 L404.7 594.1 L408.7 593.5 L412.6 592.9 L416.6 592.4 L420.5 591.9 L424.5 591.3 L428.4 590.9 L432.3 590.4 L436.3 589.9 L440.2 589.5 L444.2 589.0 L448.1 588.6 L452.1 588.2 L456.0 587.8 L460.0 587.4 L463.9 587.0 L467.8 586.6 L471.8 586.3 L475.7 585.9 L479.7 585.6 L483.6 585.3 L487.6 585.0 L491.5 584.7 L495.4 584.3 L499.4 584.1 L503.3 583.8 L507.3 583.5 L511.2 583.2 L515.2 582.9 L519.1 582.7 L523.1 582.4 L527.0 582.1 L530.9 581.9 L534.9 581.6 L538.8 581.4 L542.8 581.1 L546.7 580.9 L550.7 580.6 L554.6 580.4 L558.6 580.1 L562.5 579.9 L566.4 579.6 L570.4 579.4 L574.3 579.1 L578.3 578.9 L582.2 578.6 L586.2 578.3 L590.1 578.1 L594.1 577.8 L598.0 577.5" stroke="#FF0000" stroke-dasharray="9.7 13.3"/>
<path d="M375.0 577.2 L379.0 576.2 L382.9 575.2 L386.9 574.2 L390.9 573.2 L394.9 572.3 L398.8 571.4 L402.8 570.5 L406.8 569.6 L410.8 568.8 L414.7 567.9 L418.7 567.1 L422.7 566.3 L426.7 565.6 L430.6 564.8 L434.6 564.1 L438.6 563.4 L442.5 562.7 L446.5 562.0 L450.5 561.3 L454.5 560.6 L458.4 560.0 L462.4 559.4 L466.4 558.8 L470.4 558.2 L474.3 557.6 L478.3 557.0 L482.3 556.5 L486.3 555.9 L490.2 555.4 L494.2 554.8 L498.2 554.3 L502.1 553.8 L506.1 553.3 L510.1 552.9 L514.1 552.4 L518.0 551.9 L522.0 551.5 L526.0 551.0 L530.0 550.6 L533.9 550.1 L537.9 549.7 L541.9 549.3 L545.9 548.8 L549.8 548.4 L553.8 548.0 L557.8 547.6 L561.7 547.2 L565.7 546.8 L569.7 546.4 L573.7 546.0 L577.6 545.6 L581.6 545.2 L585.6 544.8 L589.6 544.4 L593.5 544.0 L597.5 543.6 L601.5 543.3 L605.5 542.9 L609.4 542.5 L613.4 542.1 L617.4 541.7 L621.3 541.3 L625.3 540.8 L629.3 540.4 L633.3 540.0 L637.2 539.6 L641.2 539.2 L645.2 538.7 L649.2 538.3 L653.1 537.8 L657.1 537.4 L661.1 536.9 L665.1 536.5 L669.0 536.0 L673.0 535.5" stroke="#FF0000" stroke-dasharray="9.7 13.3"/>
<path d="M366.6 554.8 L370.6 553.4 L374.6 552.1 L378.5 550.8 L382.5 549.5 L386.5 548.3 L390.5 547.0 L394.5 545.8 L398.4 544.6 L402.4 543.4 L406.4 542.3 L410.4 541.2 L414.4 540.0 L418.3 539.0 L422.3 537.9 L426.3 536.8 L430.3 535.8 L434.3 534.8 L438.2 533.8 L442.2 532.8 L446.2 531.8 L450.2 530.9 L454.2 529.9 L458.2 529.0 L462.1 528.1 L466.1 527.2 L470.1 526.4 L474.1 525.5 L478.1 524.7 L482.0 523.8 L486.0 523.0 L490.0 522.2 L494.0 521.4 L498.0 520.6 L501.9 519.9 L505.9 519.1 L509.9 518.4 L513.9 517.7 L517.9 516.9 L521.8 516.2 L525.8 515.5 L529.8 514.9 L533.8 514.2 L537.8 513.5 L541.7 512.9 L545.7 512.2 L549.7 511.6 L553.7 510.9 L557.7 510.3 L561.6 509.7 L565.6 509.1 L569.6 508.5 L573.6 507.9 L577.6 507.3 L581.5 506.7 L585.5 506.1 L589.5 505.5 L593.5 505.0 L597.5 504.4 L601.4 503.8 L605.4 503.3 L609.4 502.7 L613.4 502.2 L617.4 501.6 L621.4 501.1 L625.3 500.5 L629.3 500.0 L633.3 499.4 L637.3 498.9 L641.3 498.3 L645.2 497.8 L649.2 497.3 L653.2 496.7 L657.2 496.2 L661.2 495.6 L665.1 495.1 L669.1 494.5 L673.1 494.0 L677.1 493.4 L681.1 492.9 L685.0 492.3 L689.0 491.8 L693.0 491.2" stroke="#FF0000" stroke-dasharray="9.7 13.3"/>
<path d="M362.8 530.8 L366.8 529.2 L370.7 527.6 L374.7 526.1 L378.7 524.5 L382.6 523.0 L386.6 521.5 L390.6 520.0 L394.5 518.6 L398.5 517.1 L402.5 515.7 L406.4 514.3 L410.4 512.9 L414.3 511.6 L418.3 510.2 L422.3 508.9 L426.2 507.6 L430.2 506.3 L434.2 505.0 L438.1 503.8 L442.1 502.5 L446.1 501.3 L450.0 500.1 L454.0 498.9 L458.0 497.7 L461.9 496.5 L465.9 495.4 L469.9 494.3 L473.8 493.1 L477.8 492.0 L481.8 490.9 L485.7 489.9 L489.7 488.8 L493.7 487.7 L497.6 486.7 L501.6 485.7 L505.6 484.6 L509.5 483.6 L513.5 482.6 L517.4 481.6 L521.4 480.7 L525.4 479.7 L529.3 478.8 L533.3 477.8 L537.3 476.9 L541.2 476.0 L545.2 475.0 L549.2 474.1 L553.1 473.2 L557.1 472.3 L561.1 471.5 L565.0 470.6 L569.0 469.7 L573.0 468.9 L576.9 468.0 L580.9 467.2 L584.9 466.3 L588.8 465.5 L592.8 464.7 L596.8 463.9 L600.7 463.0 L604.7 462.2 L608.6 461.4 L612.6 460.6 L616.6 459.8 L620.5 459.0 L624.5 458.3 L628.5 457.5 L632.4 456.7 L636.4 455.9 L640.4 455.1 L644.3 454.4 L648.3 453.6 L652.3 452.8 L656.2 452.1 L660.2 451.3 L664.2 450.5 L668.1 449.8 L672.1 449.0 L676.1 448.2 L680.0 447.5 L684.0 446.7 L688.0 446.0 L691.9 445.2 L695.9 444.4 L699.9 443.7 L703.8 442.9 L707.8 442.1 L711.7 441.4 L715.7 440.6 L719.7 439.8 L723.6 439.1 L727.6 438.3 L731.6 437.5 L735.5 436.7 L739.5 435.9 L743.5 435.2 L747.4 434.4 L751.4 433.6" stroke="#FF0000" stroke-dasharray="9.7 13.3"/>
<path d="M375.0 498.2 L379.0 496.4 L383.0 494.6 L387.0 492.8 L390.9 491.0 L394.9 489.2 L398.9 487.5 L402.9 485.8 L406.9 484.0 L410.9 482.3 L414.9 480.6 L418.8 479.0 L422.8 477.3 L426.8 475.7 L430.8 474.0 L434.8 472.4 L438.8 470.8 L442.7 469.3 L446.7 467.7 L450.7 466.1 L454.7 464.6 L458.7 463.1 L462.7 461.6 L466.7 460.1 L470.6 458.6 L474.6 457.1 L478.6 455.7 L482.6 454.2 L486.6 452.8 L490.6 451.4 L494.6 450.0 L498.5 448.6 L502.5 447.2 L506.5 445.9 L510.5 444.5 L514.5 443.2 L518.5 441.9 L522.5 440.6 L526.4 439.3 L530.4 438.0 L534.4 436.8 L538.4 435.5 L542.4 434.3 L546.4 433.0 L550.3 431.8 L554.3 430.6 L558.3 429.4 L562.3 428.3 L566.3 427.1 L570.3 425.9 L574.3 424.8 L578.2 423.6 L582.2 422.5 L586.2 421.4 L590.2 420.3 L594.2 419.2 L598.2 418.1 L602.2 417.0 L606.1 415.9 L610.1 414.9 L614.1 413.8 L618.1 412.8 L622.1 411.7 L626.1 410.7 L630.0 409.7 L634.0 408.6 L638.0 407.6 L642.0 406.6 L646.0 405.6 L650.0 404.6 L654.0 403.6 L657.9 402.7 L661.9 401.7 L665.9 400.7 L669.9 399.8 L673.9 398.8 L677.9 397.8 L681.9 396.9 L685.8 395.9 L689.8 395.0 L693.8 394.1 L697.8 393.1 L701.8 392.2 L705.8 391.3 L709.8 390.4 L713.7 389.4 L717.7 388.5 L721.7 387.6 L725.7 386.7 L729.7 385.8 L733.7 384.9 L737.6 384.0 L741.6 383.0 L745.6 382.1 L749.6 381.2 L753.6 380.3 L757.6 379.4 L761.6 378.5 L765.5 377.6 L769.5 376.7 L773.5 375.8 L777.5 374.9" stroke="#FF0000" stroke-dasharray="9.7 13.3"/>
<path d="M373.0 484.5 L377.0 482.0 L381.0 479.6 L385.0 477.2 L389.0 474.9 L393.0 472.6 L397.0 470.4 L401.0 468.3 L405.0 466.2 L409.0 464.1 L413.0 462.1 L417.0 460.1 L421.0 458.2 L424.9 456.3 L428.9 454.5 L432.9 452.7 L436.9 450.9 L440.9 449.2 L444.9 447.5 L448.9 445.9 L452.9 444.2 L456.9 442.7 L460.9 441.1 L464.9 439.6 L468.9 438.0 L472.9 436.6 L476.9 435.1 L480.9 433.7 L484.9 432.2 L488.9 430.8 L492.9 429.5 L496.9 428.1 L500.9 426.8 L504.9 425.4 L508.9 424.1 L512.9 422.8 L516.9 421.5 L520.9 420.2 L524.8 418.9 L528.8 417.6 L532.8 416.3 L536.8 415.0 L540.8 413.7 L544.8 412.5 L548.8 411.2 L552.8 409.9 L556.8 408.7 L560.8 407.4 L564.8 406.2 L568.8 404.9 L572.8 403.7 L576.8 402.5 L580.8 401.2 L584.8 400.0 L588.8 398.8 L592.8 397.6 L596.8 396.3 L600.8 395.1 L604.8 393.9 L608.8 392.7 L612.8 391.5 L616.8 390.3 L620.8 389.1 L624.7 387.9 L628.7 386.7 L632.7 385.5 L636.7 384.3 L640.7 383.1 L644.7 381.9 L648.7 380.7 L652.7 379.6 L656.7 378.4 L660.7 377.2 L664.7 376.1 L668.7 374.9 L672.7 373.7 L676.7 372.6 L680.7 371.4 L684.7 370.3 L688.7 369.1 L692.7 368.0 L696.7 366.8 L700.7 365.7 L704.7 364.6 L708.7 363.4 L712.7 362.3 L716.7 361.2 L720.7 360.1 L724.6 359.0 L728.6 357.9 L732.6 356.8 L736.6 355.7 L740.6 354.6 L744.6 353.5 L748.6 352.4 L752.6 351.3 L756.6 350.2 L760.6 349.2 L764.6 348.1 L768.6 347.1 L772.6 346.0" stroke="#FF0000" stroke-dasharray="9.7 13.3"/>
<path d="M381.2 602.6 L385.2 601.8 L389.1 601.1 L393.1 600.3 L397.0 599.6 L401.0 598.9 L404.9 598.3 L408.9 597.6 L412.8 597.0 L416.8 596.4 L420.7 595.8 L424.7 595.2 L428.7 594.7 L432.6 594.2 L436.6 593.7 L440.5 593.2 L444.5 592.7 L448.4 592.2 L452.4 591.8 L456.3 591.4 L460.3 591.0 L464.2 590.6 L468.2 590.2 L472.1 589.8 L476.1 589.5 L480.1 589.1 L484.0 588.8 L488.0 588.5 L491.9 588.2 L495.9 587.9 L499.8 587.6 L503.8 587.3 L507.7 587.0 L511.7 586.7 L515.6 586.5 L519.6 586.2 L523.6 586.0 L527.5 585.7 L531.5 585.5 L535.4 585.3 L539.4 585.0 L543.3 584.8 L547.3 584.6 L551.2 584.4 L555.2 584.2 L559.1 583.9 L563.1 583.7 L567.1 583.5 L571.0 583.3 L575.0 583.1 L578.9 582.9 L582.9 582.6 L586.8 582.4 L590.8 582.2 L594.7 581.9 L598.7 581.7 L602.6 581.5 L606.6 581.2 L610.5 581.0 L614.5 580.7 L618.5 580.5 L622.4 580.2 L626.4 579.9 L630.3 579.6 L634.3 579.3 L638.2 579.0 L642.2 578.7 L646.1 578.4 L650.1 578.0 L654.0 577.7 L658.0 577.3" stroke="#31859C" stroke-dasharray="9.7 13.3"/>
<path d="M399.4 577.7 L403.4 576.8 L407.4 575.9 L411.3 575.1 L415.3 574.3 L419.3 573.4 L423.3 572.6 L427.3 571.8 L431.3 571.1 L435.2 570.3 L439.2 569.5 L443.2 568.8 L447.2 568.1 L451.2 567.4 L455.2 566.7 L459.1 566.0 L463.1 565.3 L467.1 564.6 L471.1 564.0 L475.1 563.3 L479.1 562.7 L483.0 562.1 L487.0 561.5 L491.0 560.9 L495.0 560.3 L499.0 559.7 L503.0 559.1 L506.9 558.5 L510.9 558.0 L514.9 557.4 L518.9 556.9 L522.9 556.4 L526.9 555.9 L530.8 555.4 L534.8 554.8 L538.8 554.4 L542.8 553.9 L546.8 553.4 L550.8 552.9 L554.7 552.5 L558.7 552.0 L562.7 551.5 L566.7 551.1 L570.7 550.7 L574.7 550.2 L578.6 549.8 L582.6 549.4 L586.6 549.0 L590.6 548.6 L594.6 548.2 L598.6 547.8 L602.5 547.4 L606.5 547.0 L610.5 546.6 L614.5 546.2 L618.5 545.8 L622.5 545.5 L626.4 545.1 L630.4 544.7 L634.4 544.4 L638.4 544.0 L642.4 543.6 L646.4 543.3 L650.3 542.9 L654.3 542.6 L658.3 542.2 L662.3 541.9 L666.3 541.5 L670.3 541.2 L674.2 540.8 L678.2 540.5 L682.2 540.1 L686.2 539.8 L690.2 539.5 L694.2 539.1 L698.1 538.8 L702.1 538.4 L706.1 538.1 L710.1 537.8 L714.1 537.4 L718.1 537.1 L722.0 536.7 L726.0 536.4 L730.0 536.0" stroke="#31859C" stroke-dasharray="9.7 13.3"/>
<path d="M388.7 554.8 L392.7 553.6 L396.6 552.5 L400.6 551.3 L404.6 550.2 L408.5 549.1 L412.5 548.0 L416.5 546.9 L420.5 545.9 L424.4 544.8 L428.4 543.8 L432.4 542.8 L436.3 541.8 L440.3 540.8 L444.3 539.8 L448.2 538.9 L452.2 537.9 L456.2 537.0 L460.1 536.1 L464.1 535.2 L468.1 534.3 L472.1 533.4 L476.0 532.6 L480.0 531.7 L484.0 530.9 L487.9 530.1 L491.9 529.2 L495.9 528.4 L499.8 527.7 L503.8 526.9 L507.8 526.1 L511.7 525.4 L515.7 524.6 L519.7 523.9 L523.7 523.2 L527.6 522.5 L531.6 521.8 L535.6 521.1 L539.5 520.4 L543.5 519.7 L547.5 519.0 L551.4 518.4 L555.4 517.7 L559.4 517.1 L563.3 516.5 L567.3 515.8 L571.3 515.2 L575.2 514.6 L579.2 514.0 L583.2 513.4 L587.2 512.8 L591.1 512.2 L595.1 511.7 L599.1 511.1 L603.0 510.5 L607.0 510.0 L611.0 509.4 L614.9 508.9 L618.9 508.3 L622.9 507.8 L626.8 507.3 L630.8 506.7 L634.8 506.2 L638.8 505.7 L642.7 505.2 L646.7 504.6 L650.7 504.1 L654.6 503.6 L658.6 503.1 L662.6 502.6 L666.5 502.1 L670.5 501.6 L674.5 501.1 L678.4 500.6 L682.4 500.1 L686.4 499.6 L690.4 499.1 L694.3 498.7 L698.3 498.2 L702.3 497.7 L706.2 497.2 L710.2 496.7 L714.2 496.2 L718.1 495.7 L722.1 495.2 L726.1 494.7 L730.0 494.2 L734.0 493.7 L738.0 493.2 L742.0 492.7 L745.9 492.2 L749.9 491.7 L753.9 491.2 L757.8 490.7 L761.8 490.2" stroke="#31859C" stroke-dasharray="9.7 13.3"/>
<path d="M383.8 530.8 L387.8 529.3 L391.8 527.8 L395.8 526.4 L399.8 524.9 L403.7 523.5 L407.7 522.1 L411.7 520.7 L415.7 519.4 L419.7 518.1 L423.7 516.7 L427.7 515.4 L431.7 514.1 L435.7 512.9 L439.6 511.6 L443.6 510.4 L447.6 509.2 L451.6 508.0 L455.6 506.8 L459.6 505.6 L463.6 504.5 L467.6 503.4 L471.6 502.2 L475.5 501.1 L479.5 500.0 L483.5 499.0 L487.5 497.9 L491.5 496.9 L495.5 495.8 L499.5 494.8 L503.5 493.8 L507.5 492.8 L511.4 491.8 L515.4 490.9 L519.4 489.9 L523.4 489.0 L527.4 488.0 L531.4 487.1 L535.4 486.2 L539.4 485.3 L543.4 484.4 L547.3 483.5 L551.3 482.7 L555.3 481.8 L559.3 481.0 L563.3 480.1 L567.3 479.3 L571.3 478.5 L575.3 477.7 L579.3 476.8 L583.2 476.0 L587.2 475.2 L591.2 474.5 L595.2 473.7 L599.2 472.9 L603.2 472.1 L607.2 471.4 L611.2 470.6 L615.2 469.9 L619.1 469.1 L623.1 468.4 L627.1 467.7 L631.1 466.9 L635.1 466.2 L639.1 465.5 L643.1 464.8 L647.1 464.0 L651.1 463.3 L655.0 462.6 L659.0 461.9 L663.0 461.2 L667.0 460.5 L671.0 459.8 L675.0 459.1 L679.0 458.4 L683.0 457.7 L687.0 457.0 L690.9 456.3 L694.9 455.6 L698.9 454.9 L702.9 454.2 L706.9 453.5 L710.9 452.8 L714.9 452.1 L718.9 451.4 L722.9 450.7 L726.8 450.0 L730.8 449.3 L734.8 448.5 L738.8 447.8 L742.8 447.1 L746.8 446.4 L750.8 445.6 L754.8 444.9 L758.8 444.2 L762.7 443.4 L766.7 442.7 L770.7 441.9 L774.7 441.2 L778.7 440.4 L782.7 439.6 L786.7 438.9 L790.7 438.1 L794.7 437.3 L798.6 436.5 L802.6 435.7 L806.6 434.9 L810.6 434.0 L814.6 433.2" stroke="#31859C" stroke-dasharray="9.7 13.3"/>
<path d="M395.5 498.2 L399.5 496.5 L403.5 494.9 L407.4 493.2 L411.4 491.5 L415.4 489.9 L419.4 488.3 L423.3 486.6 L427.3 485.0 L431.3 483.4 L435.3 481.9 L439.3 480.3 L443.2 478.8 L447.2 477.2 L451.2 475.7 L455.2 474.2 L459.1 472.7 L463.1 471.2 L467.1 469.7 L471.1 468.3 L475.1 466.8 L479.0 465.4 L483.0 464.0 L487.0 462.6 L491.0 461.2 L494.9 459.8 L498.9 458.5 L502.9 457.1 L506.9 455.8 L510.9 454.5 L514.8 453.2 L518.8 451.9 L522.8 450.7 L526.8 449.4 L530.7 448.2 L534.7 447.0 L538.7 445.8 L542.7 444.6 L546.7 443.4 L550.6 442.2 L554.6 441.1 L558.6 439.9 L562.6 438.8 L566.5 437.7 L570.5 436.6 L574.5 435.5 L578.5 434.4 L582.5 433.4 L586.4 432.3 L590.4 431.2 L594.4 430.2 L598.4 429.2 L602.3 428.2 L606.3 427.1 L610.3 426.1 L614.3 425.1 L618.2 424.1 L622.2 423.2 L626.2 422.2 L630.2 421.2 L634.2 420.3 L638.1 419.3 L642.1 418.3 L646.1 417.4 L650.1 416.5 L654.0 415.5 L658.0 414.6 L662.0 413.7 L666.0 412.7 L670.0 411.8 L673.9 410.9 L677.9 410.0 L681.9 409.1 L685.9 408.2 L689.8 407.3 L693.8 406.4 L697.8 405.5 L701.8 404.6 L705.8 403.7 L709.7 402.8 L713.7 401.9 L717.7 401.0 L721.7 400.1 L725.6 399.2 L729.6 398.4 L733.6 397.5 L737.6 396.6 L741.6 395.7 L745.5 394.8 L749.5 393.9 L753.5 393.1 L757.5 392.2 L761.4 391.3 L765.4 390.4 L769.4 389.5 L773.4 388.7 L777.4 387.8 L781.3 386.9 L785.3 386.0 L789.3 385.2 L793.3 384.3 L797.2 383.4 L801.2 382.6 L805.2 381.7 L809.2 380.8 L813.2 379.9 L817.1 379.1 L821.1 378.2 L825.1 377.3 L829.1 376.5 L833.0 375.6 L837.0 374.8 L841.0 373.9" stroke="#31859C" stroke-dasharray="9.7 13.3"/>
<path d="M392.6 484.3 L396.6 482.1 L400.6 479.9 L404.6 477.8 L408.6 475.8 L412.6 473.8 L416.6 471.8 L420.6 469.9 L424.6 468.0 L428.6 466.1 L432.5 464.3 L436.5 462.6 L440.5 460.8 L444.5 459.1 L448.5 457.4 L452.5 455.8 L456.5 454.2 L460.5 452.6 L464.5 451.0 L468.5 449.5 L472.5 448.0 L476.5 446.5 L480.5 445.0 L484.5 443.6 L488.5 442.2 L492.5 440.8 L496.5 439.4 L500.5 438.1 L504.5 436.7 L508.4 435.4 L512.4 434.1 L516.4 432.8 L520.4 431.5 L524.4 430.3 L528.4 429.0 L532.4 427.7 L536.4 426.5 L540.4 425.3 L544.4 424.1 L548.4 422.8 L552.4 421.6 L556.4 420.4 L560.4 419.3 L564.4 418.1 L568.4 416.9 L572.4 415.7 L576.4 414.6 L580.3 413.4 L584.3 412.3 L588.3 411.1 L592.3 410.0 L596.3 408.8 L600.3 407.7 L604.3 406.5 L608.3 405.4 L612.3 404.3 L616.3 403.1 L620.3 402.0 L624.3 400.9 L628.3 399.7 L632.3 398.6 L636.3 397.5 L640.3 396.3 L644.3 395.2 L648.3 394.1 L652.3 393.0 L656.2 391.8 L660.2 390.7 L664.2 389.6 L668.2 388.5 L672.2 387.4 L676.2 386.3 L680.2 385.1 L684.2 384.0 L688.2 382.9 L692.2 381.8 L696.2 380.7 L700.2 379.6 L704.2 378.5 L708.2 377.4 L712.2 376.3 L716.2 375.3 L720.2 374.2 L724.2 373.1 L728.1 372.0 L732.1 371.0 L736.1 369.9 L740.1 368.8 L744.1 367.8 L748.1 366.7 L752.1 365.7 L756.1 364.6 L760.1 363.6 L764.1 362.5 L768.1 361.5 L772.1 360.5 L776.1 359.5 L780.1 358.5 L784.1 357.5 L788.1 356.5 L792.1 355.5 L796.1 354.5 L800.1 353.5 L804.0 352.5 L808.0 351.5 L812.0 350.6 L816.0 349.6 L820.0 348.7 L824.0 347.7 L828.0 346.8 L832.0 345.8 L836.0 344.9 L840.0 344.0" stroke="#31859C" stroke-dasharray="9.7 13.3"/>
</g>
<rect x="684.3" y="546.4" width="193.4" height="103.1" fill="#fff" stroke="#9a9a9a" stroke-width="1.2"/>
<g fill="none" stroke-width="3.3" stroke-linecap="round">
<line x1="695.8" y1="563.7" x2="759.5" y2="563.7" stroke="#77933C"/>
<line x1="695.8" y1="598.1" x2="759.5" y2="598.1" stroke="#FF0000" stroke-dasharray="9.7 13.3"/>
<line x1="695.8" y1="632.7" x2="759.5" y2="632.7" stroke="#31859C" stroke-dasharray="9.7 13.3"/>
</g>
<g class="c" font-size="20.5">
<text x="766.5" y="570.2" textLength="100.5" lengthAdjust="spacingAndGlyphs">DP at 60C</text>
<text x="766" y="604.8" textLength="103.5" lengthAdjust="spacingAndGlyphs">OD at 40C</text>
<text x="766" y="639.5" textLength="103.5" lengthAdjust="spacingAndGlyphs">OD at 20C</text>
</g>
<g class="c" font-size="21.5" text-anchor="end">
<text x="120" y="666.9" textLength="12.4" lengthAdjust="spacingAndGlyphs">0</text>
<text x="120" y="597.2" textLength="49.8" lengthAdjust="spacingAndGlyphs">5000</text>
<text x="120" y="527.5" textLength="62.2" lengthAdjust="spacingAndGlyphs">10000</text>
<text x="120" y="457.7" textLength="62.2" lengthAdjust="spacingAndGlyphs">15000</text>
<text x="120" y="388.0" textLength="62.2" lengthAdjust="spacingAndGlyphs">20000</text>
<text x="120" y="318.3" textLength="62.2" lengthAdjust="spacingAndGlyphs">25000</text>
</g>
<g class="c" font-size="21.5" text-anchor="middle">
<text x="143.0" y="699.8" textLength="12.4" lengthAdjust="spacingAndGlyphs">0</text>
<text x="238.0" y="699.8" textLength="24.9" lengthAdjust="spacingAndGlyphs">20</text>
<text x="333.0" y="699.8" textLength="24.9" lengthAdjust="spacingAndGlyphs">40</text>
<text x="428.0" y="699.8" textLength="24.9" lengthAdjust="spacingAndGlyphs">60</text>
<text x="523.0" y="699.8" textLength="24.9" lengthAdjust="spacingAndGlyphs">80</text>
<text x="618.0" y="699.8" textLength="37.3" lengthAdjust="spacingAndGlyphs">100</text>
<text x="713.0" y="699.8" textLength="37.3" lengthAdjust="spacingAndGlyphs">120</text>
<text x="808.0" y="699.8" textLength="37.3" lengthAdjust="spacingAndGlyphs">140</text>
<text x="903.0" y="699.8" textLength="37.3" lengthAdjust="spacingAndGlyphs">160</text>
</g>
<g class="c" font-size="22" text-anchor="start">
<text x="926.5" y="39.1" textLength="45" lengthAdjust="spacingAndGlyphs">0.95</text>
<text x="926.5" y="74.0" textLength="45" lengthAdjust="spacingAndGlyphs">0.90</text>
<text x="926.5" y="108.8" textLength="45" lengthAdjust="spacingAndGlyphs">0.85</text>
<text x="926.5" y="143.7" textLength="45" lengthAdjust="spacingAndGlyphs">0.80</text>
<text x="926.5" y="178.5" textLength="45" lengthAdjust="spacingAndGlyphs">0.75</text>
<text x="926.5" y="213.4" textLength="45" lengthAdjust="spacingAndGlyphs">0.70</text>
<text x="926.5" y="248.3" textLength="45" lengthAdjust="spacingAndGlyphs">0.65</text>
<text x="926.5" y="283.1" textLength="45" lengthAdjust="spacingAndGlyphs">0.60</text>
</g>
<text class="c" font-size="24.5" x="477.5" y="731" textLength="215.5" lengthAdjust="spacingAndGlyphs">Suction Flow (kg/s)</text>
<text class="c" font-size="25" transform="translate(42.0 532.8) rotate(-90)" textLength="197" lengthAdjust="spacingAndGlyphs">Shaft Power (KW)</text>
<text font-size="24" font-weight="bold" transform="translate(1003.8 279.5) rotate(-90)" textLength="232" lengthAdjust="spacingAndGlyphs">Polytropic Efficiency</text>
<g font-size="20" text-anchor="end">
<text transform="translate(357.0 484.0) rotate(-25.5)">105%</text>
<text transform="translate(361.2 503.6) rotate(-25.5)">100%</text>
<text transform="translate(347.2 532.3) rotate(-25.5)">90%</text>
<text transform="translate(344.2 555.3) rotate(-25.5)">80%</text>
<text transform="translate(351.7 576.8) rotate(-25.5)">70%</text>
<text transform="translate(335.7 607.0) rotate(-25.5)">60%</text>
</g>
</svg></body></html>
